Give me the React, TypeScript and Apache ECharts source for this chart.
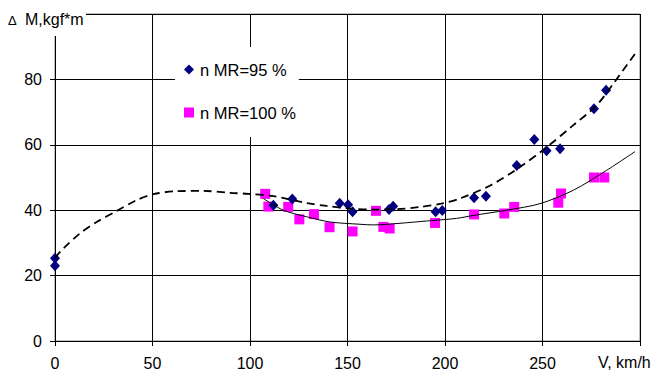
import React, { useEffect, useRef } from "react";
import * as echarts from "echarts";

const seriesNames = ["n MR=95 %", "n MR=100 %"];

const mr95Points: [number, number][] = [
  [0, 25.3], [0, 23], [112, 41.5], [121.7, 43.4], [146, 42.1], [150.3, 41.7],
  [152.6, 39.5], [171.3, 40.2], [173.4, 41.2], [195.2, 39.5], [198.6, 39.9],
  [214.9, 43.8], [221, 44.3], [236.8, 53.7], [245.8, 61.6], [252.1, 58.2],
  [259, 58.8], [276.4, 71], [282.6, 76.7],
];

const mr100Points: [number, number][] = [
  [107.8, 45], [109.4, 41.1], [119.6, 41], [125.3, 37.2], [132.8, 38.8],
  [140.8, 34.8], [152.6, 33.5], [164.6, 39.8], [168.4, 34.9], [171.6, 34.4],
  [194.9, 36.1], [214.9, 38.7], [230.4, 39], [235.5, 41], [258.1, 42.3],
  [259.5, 45.1], [276.4, 50], [281.7, 50],
];

const mr95Trend: [number, number][] = [
  [0, 25.5], [4.3, 28.3], [12.8, 32.9], [21.4, 36.4], [30.8, 39.5], [41.9, 43.1],
  [50.4, 44.9], [62.4, 45.8], [76, 45.9], [89.7, 45.3], [99.1, 45], [112, 44.3],
  [129, 42.2], [139.3, 41.3], [151.3, 40.5], [163.2, 40.2], [175.2, 40.3],
  [187.2, 41], [198, 42], [207.7, 43.6], [223, 47.5], [238.5, 53.2],
  [252.2, 59.3], [265.8, 66], [277.8, 72.1], [286.3, 78.7], [297.4, 87.8],
];

const mr100Trend: [number, number][] = [
  [106.8, 43.6], [117.1, 40], [129, 38], [141, 36.4], [156.4, 35.7],
  [163.2, 35.5], [176.9, 36], [190.6, 36.7], [206, 37.5], [214.5, 38.4],
  [231.6, 40], [248.7, 42], [265.8, 46.1], [282.9, 52.2], [297.4, 57.9],
];

const xTicks = { min: 0, max: 300, interval: 50 };
const yTicks = { min: 0, max: 100, interval: 20 };
const yAxisTitle = ["Δ", "M,kgf*m"];
const xAxisTitle = "V, km/h";

const FONT = "'Liberation Sans', Arial, sans-serif";

export default function App() {
  const ref = useRef<HTMLDivElement>(null);
  useEffect(() => {
    if (!ref.current) return;
    const chart = echarts.init(ref.current, undefined, { renderer: "svg" });
    chart.setOption({
      animation: false,
      backgroundColor: "#fff",
      textStyle: { fontFamily: FONT },
      grid: {
        left: 55, right: 15, top: 14, bottom: 32,
        show: true, borderColor: "#808080", borderWidth: 1,
      },
      legend: {
        orient: "vertical",
        left: 175, top: 47,
        backgroundColor: "#fff",
        padding: [14, 3, 16, 9],
        itemGap: 26,
        itemWidth: 10,
        itemHeight: 10,
        textStyle: { fontSize: 16.5, color: "#000", fontFamily: FONT, padding: [0, 0, 0, 1] },
        data: [
          { name: seriesNames[0], icon: "diamond" },
          { name: seriesNames[1], icon: "rect" },
        ],
      },
      xAxis: {
        type: "value",
        ...xTicks,
        axisLine: { show: true, lineStyle: { color: "#000", width: 1 } },
        axisTick: { show: true, length: 5, lineStyle: { color: "#000" } },
        axisLabel: {
          fontSize: 16, color: "#000", margin: 14, fontFamily: FONT,
          formatter: (v: number) => (v === 300 ? "" : String(v)),
        },
        splitLine: { show: true, lineStyle: { color: "#000", width: 1 } },
      },
      yAxis: {
        type: "value",
        ...yTicks,
        axisLine: { show: true, lineStyle: { color: "#000", width: 1 } },
        axisTick: { show: true, length: 5, lineStyle: { color: "#000" } },
        axisLabel: {
          fontSize: 16, color: "#000", margin: 13, fontFamily: FONT,
          formatter: (v: number) => (v === 100 ? "" : String(v)),
        },
        splitLine: { show: true, lineStyle: { color: "#000", width: 1 } },
      },
      series: [
        {
          name: seriesNames[1], type: "scatter", data: mr100Points,
          symbol: "rect", symbolSize: 10, itemStyle: { color: "#FF00FF", opacity: 1 }, z: 3,
        },
        {
          name: seriesNames[0], type: "scatter", data: mr95Points,
          symbol: "diamond", symbolSize: [10, 11], itemStyle: { color: "#000080", opacity: 1 }, z: 4,
        },
        {
          name: "trend95", type: "line", data: mr95Trend, showSymbol: false, smooth: 0.3,
          lineStyle: { color: "#000", width: 1.8, type: [8, 5] }, z: 5,
        },
        {
          name: "trend100", type: "line", data: mr100Trend, showSymbol: false, smooth: 0.3,
          lineStyle: { color: "#000", width: 1, type: "solid" }, z: 5,
        },
      ],
      graphic: [
        { type: "rect", shape: { x: 0, y: 0, width: 86, height: 36 }, style: { fill: "#fff" }, z: 10 },
        {
          type: "text", x: 8, y: 20, z: 11,
          style: { text: yAxisTitle[0], font: `13px ${FONT}`, fill: "#000", verticalAlign: "middle", align: "left" },
        },
        {
          type: "text", x: 25, y: 19, z: 11,
          style: { text: yAxisTitle[1], font: `16px ${FONT}`, fill: "#000", verticalAlign: "middle", align: "left" },
        },
        {
          type: "text", x: 598, y: 362, z: 11,
          style: { text: xAxisTitle, font: `16px ${FONT}`, fill: "#000", verticalAlign: "middle", align: "left" },
        },
      ],
    });
    return () => chart.dispose();
  }, []);
  return <div ref={ref} style={{ width: 655, height: 373, position: "absolute", left: 0, top: 0 }} />;
}
